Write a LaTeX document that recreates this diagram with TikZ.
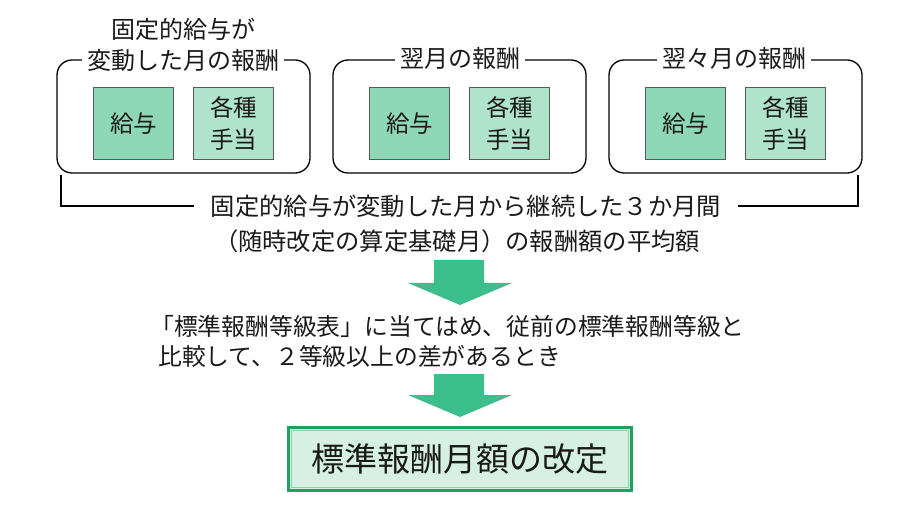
\documentclass[tikz,border=0pt]{standalone}
\usepackage{fontspec}
\setmainfont{Noto Sans CJK JP}
\definecolor{arrowgreen}{HTML}{3BBE8B}
\definecolor{salary}{HTML}{8ED7B7}
\definecolor{allow}{HTML}{B0E3CC}
\definecolor{finalfill}{HTML}{D6F0E3}
\definecolor{finalborder}{HTML}{1FA25E}
\definecolor{finalinner}{HTML}{8ED3A8}
\definecolor{ink}{HTML}{1A1A1A}
\begin{document}
\begin{tikzpicture}[x=1pt,y=-1pt,
  monthbox/.style={draw=black, line width=1.3pt, rounded corners=15pt, minimum width=253pt, minimum height=113pt, inner sep=0pt},
  boxtitle/.style={fill=white, inner xsep=5pt, inner ysep=1pt, text=ink, font=\fontsize{24}{28}\selectfont},
  salarybox/.style={draw=black!65, line width=0.8pt, fill=salary, minimum width=80pt, minimum height=72pt, inner sep=0pt, align=center, text=ink, font=\fontsize{23.5}{32}\selectfont},
  allowbox/.style={salarybox, fill=allow},
  plaintext/.style={inner sep=0pt, text=ink, font=\fontsize{24.3}{30}\selectfont},
  bracket/.style={draw=black, line width=1.2pt},
  blockarrow/.style={fill=arrowgreen},
  finalbox/.style={draw=finalborder, line width=3pt, fill=finalfill, minimum width=343pt, minimum height=63pt, inner sep=0pt, text=ink, font=\fontsize{33}{36}\selectfont}
]
\useasboundingbox (0,0) rectangle (920,510);

% month boxes
\node[monthbox] (m1) at (183.5,116.5) {};
\node[monthbox] (m2) at (459.5,116.5) {};
\node[monthbox] (m3) at (735.5,116.5) {};

\node[boxtitle, fill=none] (t1a) at (183,29) {固定的給与が};
\node[boxtitle] (t1b) at (183,60) {変動した月の報酬};
\node[boxtitle] (t2) at (460,58) {翌月の報酬};
\node[boxtitle] (t3) at (734,58) {翌々月の報酬};

\node[salarybox] (s1) at (133.5,123.5) {給与};
\node[allowbox] (a1) at (233.5,123.5) {各種\\手当};
\node[salarybox] (s2) at (409.5,123.5) {給与};
\node[allowbox] (a2) at (509.5,123.5) {各種\\手当};
\node[salarybox] (s3) at (685.5,123.5) {給与};
\node[allowbox] (a3) at (785.5,123.5) {各種\\手当};

% bracket with text
\coordinate (bL) at (61,175);
\coordinate (bR) at (858,175);
\node[plaintext, inner xsep=17pt] (bt) at (466,206) {固定的給与が変動した月から継続した３か月間};
\node[plaintext] (bt2) at (457,241) {（随時改定の算定基礎月）の報酬額の平均額};
\draw[bracket] (bL) |- (bt.west);
\draw[bracket] (bt.east) -| (bR);

% arrow 1
\fill[blockarrow] (434,260) -- (484,260) -- (484,283) -- (512,283) -- (460,305) -- (408,283) -- (434,283) -- cycle;

% middle text
\node[plaintext, anchor=west, align=left, font=\fontsize{23.8}{30}\selectfont] (mid) at (158,341) {\kern-8pt「標準報酬等級表」に当てはめ、従前の標準報酬等級と\\比較して、２等級以上の差があるとき};

% arrow 2
\fill[blockarrow] (434,374) -- (484,374) -- (484,395) -- (512,395) -- (460,417) -- (408,395) -- (434,395) -- cycle;

% final box
\node[finalbox] (fin) at (459.5,458.5) {標準報酬月額の改定};
\draw[finalinner, line width=1pt] ([shift={(4.5,4.5)}]fin.north west) rectangle ([shift={(-4.5,-4.5)}]fin.south east);
\end{tikzpicture}
\end{document}
